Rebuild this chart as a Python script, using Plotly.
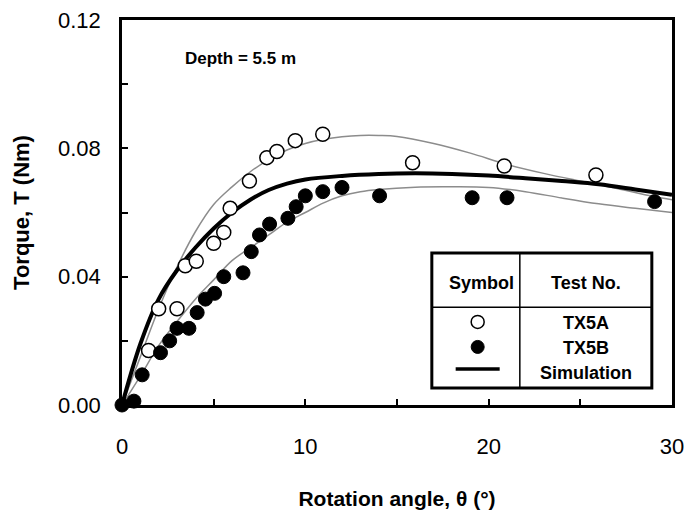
import plotly.graph_objects as go

# Measured torque vs. rotation angle, test TX5A (open circles)
tx5a_angle = [1.45, 2.0, 3.0, 3.45, 4.05, 5.0, 5.55, 5.9, 6.95, 7.9, 8.45, 9.45, 10.95, 15.85, 20.85, 25.85]
tx5a_torque = [0.0170, 0.0300, 0.0300, 0.0434, 0.0448, 0.0504, 0.0538, 0.0613, 0.0698, 0.0771, 0.0790, 0.0824, 0.0844, 0.0755, 0.0745, 0.0717]

# Measured torque vs. rotation angle, test TX5B (filled circles)
tx5b_angle = [0.0, 0.65, 1.1, 2.1, 2.6, 3.0, 3.65, 4.1, 4.55, 5.05, 5.55, 6.6, 7.05, 7.5, 8.05, 9.05, 9.5, 10.0, 10.95, 12.0, 14.05, 19.1, 21.0, 29.05]
tx5b_torque = [0.0, 0.0012, 0.0094, 0.0163, 0.0200, 0.0239, 0.0239, 0.0288, 0.0330, 0.0348, 0.0400, 0.0412, 0.0478, 0.0530, 0.0564, 0.0582, 0.0618, 0.0652, 0.0665, 0.0678, 0.0652, 0.0646, 0.0646, 0.0634]

# Simulated response (thick black curve)
sim_angle = [0, 1, 2, 3, 4, 5, 6, 7, 8, 9, 10, 12, 14, 16, 18, 20, 22, 24, 26, 28, 30]
sim_torque = [0.0, 0.0190, 0.0330, 0.0420, 0.0490, 0.0550, 0.0600, 0.0640, 0.0670, 0.0690, 0.0703, 0.0714, 0.0720, 0.0722, 0.0720, 0.0715, 0.0707, 0.0698, 0.0688, 0.0672, 0.0655]

# Trend curves through each test (thin grey)
fit_a_angle = [0, 1, 2, 3, 4, 5, 6, 7, 8, 9, 10, 11, 12, 13, 14, 15, 17, 19, 21, 23, 25, 27, 29, 30]
fit_a_torque = [0.0, 0.0150, 0.0300, 0.0430, 0.0540, 0.0625, 0.0680, 0.0727, 0.0765, 0.0795, 0.0815, 0.0828, 0.0836, 0.0840, 0.0840, 0.0837, 0.0815, 0.0785, 0.0750, 0.0722, 0.0698, 0.0675, 0.0650, 0.0640]
fit_b_angle = [0, 1, 2, 3, 4, 5, 6, 7, 8, 9, 10, 11, 12, 13, 14, 16, 18, 20, 22, 24, 26, 28, 30]
fit_b_torque = [0.0, 0.0090, 0.0185, 0.0260, 0.0330, 0.0390, 0.0450, 0.0490, 0.0530, 0.0570, 0.0600, 0.0630, 0.0652, 0.0665, 0.0672, 0.0679, 0.0680, 0.0678, 0.0665, 0.0645, 0.0627, 0.0613, 0.0600]

x_ticks = [0, 5, 10, 15, 20, 25, 30]
x_tick_text = ["0", "", "10", "", "20", "", "30"]
y_ticks = [0.0, 0.02, 0.04, 0.06, 0.08, 0.10, 0.12]
y_tick_text = ["0.00", "", "0.04", "", "0.08", "", "0.12"]

FONT = "Liberation Sans, Arial, sans-serif"

fig = go.Figure()

fig.add_trace(go.Scatter(x=fit_a_angle, y=fit_a_torque, mode="lines", line=dict(color="#8c8c8c", width=1.5, shape="spline"), showlegend=False))
fig.add_trace(go.Scatter(x=fit_b_angle, y=fit_b_torque, mode="lines", line=dict(color="#8c8c8c", width=1.5, shape="spline"), showlegend=False))
fig.add_trace(go.Scatter(x=sim_angle, y=sim_torque, mode="lines", line=dict(color="black", width=4, shape="spline"), showlegend=False))
fig.add_trace(go.Scatter(x=tx5a_angle, y=tx5a_torque, mode="markers",
                         marker=dict(symbol="circle", size=14, color="white", line=dict(color="black", width=1.5)),
                         showlegend=False, cliponaxis=False))
fig.add_trace(go.Scatter(x=tx5b_angle, y=tx5b_torque, mode="markers",
                         marker=dict(symbol="circle", size=14, color="black", line=dict(color="black", width=1)),
                         showlegend=False, cliponaxis=False))

# Legend table drawn inside the plot area
box_x0, box_x1, box_div = 16.9, 28.9, 21.7
box_y0, box_y1, box_hdiv = 0.0053, 0.0474, 0.0305
shapes = [
    dict(type="rect", xref="x", yref="y", x0=box_x0, x1=box_x1, y0=box_y0, y1=box_y1,
         line=dict(color="black", width=3), fillcolor="white", layer="above"),
    dict(type="line", xref="x", yref="y", x0=box_x0, x1=box_x1, y0=box_hdiv, y1=box_hdiv,
         line=dict(color="black", width=1.5), layer="above"),
    dict(type="line", xref="x", yref="y", x0=box_div, x1=box_div, y0=box_y0, y1=box_y1,
         line=dict(color="black", width=1.5), layer="above"),
    dict(type="circle", xref="x", yref="y", xsizemode="pixel", ysizemode="pixel",
         xanchor=19.4, yanchor=0.0259, x0=-6.5, x1=6.5, y0=-6.5, y1=6.5,
         line=dict(color="black", width=1.5), fillcolor="white", layer="above"),
    dict(type="circle", xref="x", yref="y", xsizemode="pixel", ysizemode="pixel",
         xanchor=19.4, yanchor=0.0181, x0=-6.5, x1=6.5, y0=-6.5, y1=6.5,
         line=dict(color="black", width=1), fillcolor="black", layer="above"),
    dict(type="line", xref="x", yref="y", x0=18.2, x1=20.6, y0=0.0112, y1=0.0112,
         line=dict(color="black", width=3.5), layer="above"),
]

legend_font = dict(family=FONT, size=18, color="black")
annotations = [
    dict(x=6.44, y=0.108, xref="x", yref="y", text="<b>Depth = 5.5 m</b>", showarrow=False,
         font=dict(family=FONT, size=17, color="black")),
    dict(x=19.6, y=0.0381, xref="x", yref="y", text="<b>Symbol</b>", showarrow=False, font=legend_font),
    dict(x=25.3, y=0.0381, xref="x", yref="y", text="<b>Test No.</b>", showarrow=False, font=legend_font),
    dict(x=25.3, y=0.0256, xref="x", yref="y", text="<b>TX5A</b>", showarrow=False, font=legend_font),
    dict(x=25.3, y=0.0178, xref="x", yref="y", text="<b>TX5B</b>", showarrow=False, font=legend_font),
    dict(x=25.3, y=0.0100, xref="x", yref="y", text="<b>Simulation</b>", showarrow=False, font=legend_font),
]

fig.update_layout(
    width=697, height=510,
    margin=dict(l=122, r=25, t=20, b=105, autoexpand=False),
    paper_bgcolor="white", plot_bgcolor="white",
    font=dict(family=FONT, color="black"),
    shapes=shapes, annotations=annotations,
    showlegend=False,
)

fig.update_xaxes(
    range=[0, 30], tickvals=x_ticks, ticktext=x_tick_text, automargin=False,
    ticks="inside", ticklen=6, tickwidth=1.5, tickcolor="black",
    showline=True, linecolor="black", linewidth=2.5, mirror=True,
    showgrid=False, zeroline=False,
    tickfont=dict(family=FONT, size=22, color="black"), ticklabelstandoff=20,
    title=dict(text="<b>Rotation angle, \u03b8 (\u00b0)</b>", font=dict(family=FONT, size=21, color="black"), standoff=36),
)
fig.update_yaxes(
    range=[0, 0.12], tickvals=y_ticks, ticktext=y_tick_text, automargin=False,
    ticks="inside", ticklen=6, tickwidth=1.5, tickcolor="black",
    showline=True, linecolor="black", linewidth=2.5, mirror=True,
    showgrid=False, zeroline=False,
    tickfont=dict(family=FONT, size=22, color="black"), ticklabelstandoff=14,
    title=dict(text="<b>Torque, T (Nm)</b>", font=dict(family=FONT, size=22, color="black"), standoff=23),
)

fig.write_html("out.html")
